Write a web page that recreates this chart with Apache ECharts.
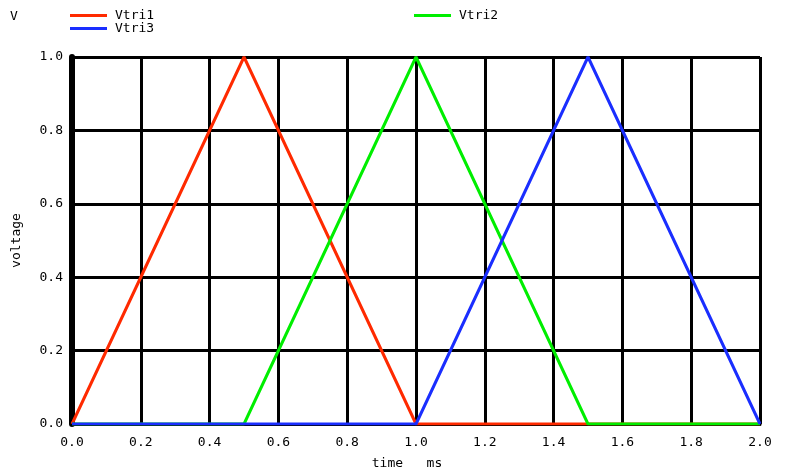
<!DOCTYPE html>
<html>
<head>
<meta charset="utf-8">
<script src="https://cdn.jsdelivr.net/npm/echarts@6/dist/echarts.min.js"></script>
<style>
  html, body { margin: 0; padding: 0; background: #fff; }
  #chart { width: 791px; height: 475px; }
</style>
</head>
<body>
<div id="chart"></div>
<script>
// time in ms, voltage in V
let vtri1Time = [0.0, 0.5, 1.0, 2.0];
let vtri1Volt = [0.0, 1.0, 0.0, 0.0];
let vtri2Time = [0.0, 0.5, 1.0, 1.5, 2.0];
let vtri2Volt = [0.0, 0.0, 1.0, 0.0, 0.0];
let vtri3Time = [0.0, 1.0, 1.5, 2.0];
let vtri3Volt = [0.0, 0.0, 1.0, 0.0];

let toPairs = function (xs, ys) {
    return xs.map((x, i) => [x, ys[i]]);
};

let monoFont = 'DejaVu Sans Mono';
let chart = echarts.init(document.getElementById('chart'));

let axisCommon = {
    type: 'value',
    min: 0,
    interval: 0.2,
    axisLine: { show: true, onZero: false, lineStyle: { color: '#000', width: 3 } },
    axisTick: { show: false },
    splitLine: { show: true, lineStyle: { color: '#000', width: 3 } },
    axisLabel: {
        color: '#000',
        fontFamily: monoFont,
        fontSize: 13,
        formatter: v => v.toFixed(1)
    },
    nameTextStyle: { color: '#000', fontFamily: monoFont, fontSize: 13 }
};

let option = {
    animation: false,
    backgroundColor: '#fff',
    title: {
        text: 'V',
        left: 5,
        top: 5,
        textStyle: { color: '#000', fontFamily: monoFont, fontSize: 13, fontWeight: 'normal' }
    },
    legend: [
        {
            data: ['Vtri1', 'Vtri3'],
            orient: 'vertical',
            left: 65,
            top: 4,
            itemWidth: 37,
            itemHeight: 3,
            itemGap: 0,
            icon: 'rect',
            textStyle: { color: '#000', fontFamily: monoFont, fontSize: 13, padding: [3, 0, 0, 3] }
        },
        {
            data: ['Vtri2'],
            orient: 'vertical',
            left: 409,
            top: 4,
            itemWidth: 37,
            itemHeight: 3,
            icon: 'rect',
            textStyle: { color: '#000', fontFamily: monoFont, fontSize: 13, padding: [3, 0, 0, 3] }
        }
    ],
    grid: { left: 72, right: 31, top: 57, bottom: 50 },
    xAxis: Object.assign({}, axisCommon, {
        max: 2,
        name: 'time   ms',
        nameLocation: 'middle',
        nameGap: 33,
        nameTextStyle: Object.assign({}, axisCommon.nameTextStyle, { padding: [0, 18, 0, 0] }),
        axisLabel: Object.assign({}, axisCommon.axisLabel, { margin: 12 })
    }),
    yAxis: Object.assign({}, axisCommon, {
        max: 1,
        name: 'voltage',
        nameLocation: 'middle',
        nameRotate: 90,
        nameGap: 49,
        axisLine: { show: true, onZero: false, lineStyle: { color: '#000', width: 6 } },
        axisLabel: Object.assign({}, axisCommon.axisLabel, { margin: 9 })
    }),
    series: [
        {
            name: 'Vtri1',
            type: 'line',
            data: toPairs(vtri1Time, vtri1Volt),
            symbol: 'none',
            color: '#ff2a00',
            lineStyle: { width: 3 }
        },
        {
            name: 'Vtri2',
            type: 'line',
            data: toPairs(vtri2Time, vtri2Volt),
            symbol: 'none',
            color: '#00ee00',
            lineStyle: { width: 3 }
        },
        {
            name: 'Vtri3',
            type: 'line',
            data: toPairs(vtri3Time, vtri3Volt),
            symbol: 'none',
            color: '#1a2eff',
            lineStyle: { width: 3 }
        }
    ]
};

chart.setOption(option);
</script>
</body>
</html>
